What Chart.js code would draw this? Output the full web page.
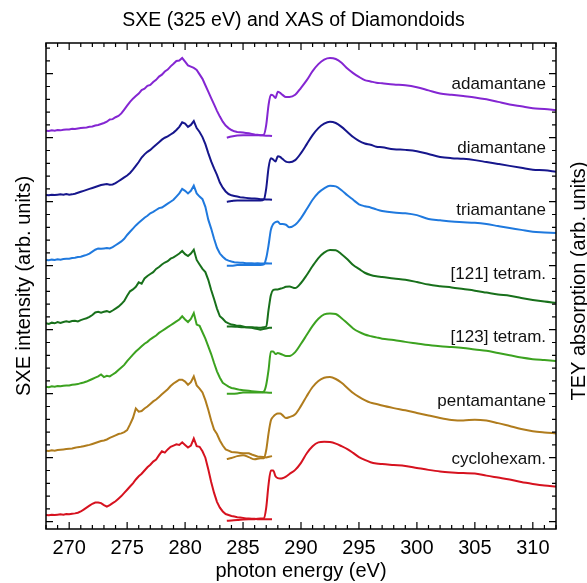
<!DOCTYPE html>
<html>
<head>
<meta charset="utf-8">
<script src="https://cdn.jsdelivr.net/npm/chart.js@4/dist/chart.umd.min.js"></script>
<style>
  html, body { margin: 0; padding: 0; background: #fff; }
  canvas { display: block; }
</style>
</head>
<body>
<canvas id="chart" width="587" height="583"></canvas>
<script>
// Samples, stacked bottom-to-top by one unit each
const samples = ['adamantane', 'diamantane', 'triamantane', '[121] tetram.', '[123] tetram.', 'pentamantane', 'cyclohexam.'];
const stackOffset = [6, 5, 4, 3, 2, 1, 0];
const energyTickLabels = [270, 275, 280, 285, 290, 295, 300, 305, 310];

// Soft x-ray emission energy grid (eV)
const sxeEnergy = [
  268, 268.25, 268.5, 268.75, 269, 269.25, 269.5, 269.75, 270, 270.25, 270.5, 270.75,
  271, 271.25, 271.5, 271.75, 272, 272.25, 272.5, 272.75, 273, 273.25, 273.5, 273.75,
  274, 274.25, 274.5, 274.75, 275, 275.25, 275.5, 275.75, 276, 276.25, 276.5, 276.75,
  277, 277.25, 277.5, 277.75, 278, 278.25, 278.5, 278.75, 279, 279.25, 279.5, 279.75,
  280, 280.25, 280.5, 280.75, 281, 281.25, 281.5, 281.75, 282, 282.25, 282.5, 282.75,
  283, 283.25, 283.5, 283.75, 284, 284.25, 284.5, 284.75, 285, 285.25, 285.5, 285.75,
  286, 286.25, 286.5, 286.75, 287, 287.25, 287.5
];

// X-ray absorption energy grid (eV)
const xasEnergy = [
  283.6, 284, 284.5, 285, 285.5, 286, 286.5,
  286.8, 287, 287.2, 287.4, 287.6, 287.8, 288,
  288.2, 288.4, 288.7, 289,
  289.5, 290, 290.5, 291, 291.5, 292, 292.5, 293, 293.5, 294, 294.5, 295, 295.5, 296, 296.5, 297,
  298, 299, 300, 301, 302, 303, 304, 305, 306, 307, 308, 309, 310, 311, 312
];

// SXE intensities (arb. units)
const sxeAdamantane = [
  0.11, 0.105, 0.115, 0.11,   0.12, 0.115, 0.125, 0.13,   0.13, 0.14, 0.135, 0.145,
  0.15, 0.155, 0.16, 0.17,    0.175, 0.19, 0.20, 0.215,   0.23, 0.25, 0.285, 0.29,
  0.32, 0.34, 0.38, 0.44,     0.50, 0.56, 0.61, 0.65,     0.69, 0.745, 0.765, 0.81,
  0.825, 0.87, 0.905, 0.955,  0.985, 1.035, 1.065, 1.115, 1.155, 1.20, 1.205, 1.245,
  1.19, 1.13, 1.11, 1.09,     1.06, 0.99, 0.92, 0.82,     0.72, 0.62, 0.52, 0.42,
  0.33, 0.25, 0.19, 0.15,     0.12, 0.10, 0.09, 0.085,    0.08, 0.075, 0.07, 0.06,
  0.05, 0.045, 0.04, 0.035,   0.03, 0.03, 0.025
];
const sxeDiamantane = [
  0.105, 0.10, 0.11, 0.105,   0.11, 0.115, 0.11, 0.12,    0.11, 0.115, 0.125, 0.14,
  0.155, 0.17, 0.185, 0.20,   0.215, 0.23, 0.245, 0.26,   0.27, 0.275, 0.265, 0.27,
  0.29, 0.32, 0.35, 0.38,     0.41, 0.45, 0.50, 0.56,     0.62, 0.69, 0.74, 0.78,
  0.81, 0.85, 0.89, 0.93,     0.97, 1.00, 1.02, 1.05,     1.08, 1.12, 1.17, 1.24,
  1.22, 1.17, 1.20, 1.26,     1.15, 1.09, 1.01, 0.90,     0.76, 0.63, 0.52, 0.42,
  0.30, 0.22, 0.16, 0.12,     0.10, 0.09, 0.08, 0.07,     0.065, 0.06, 0.055, 0.05,
  0.05, 0.045, 0.04, 0.04,    0.035, 0.035, 0.03
];
const sxeTriamantane = [
  0.09, 0.085, 0.095, 0.09,   0.10, 0.095, 0.105, 0.11,   0.11, 0.12, 0.125, 0.135,
  0.14, 0.155, 0.17, 0.19,    0.22, 0.25, 0.27, 0.265,    0.27, 0.275, 0.27, 0.29,
  0.32, 0.35, 0.38, 0.42,     0.48, 0.53, 0.58, 0.63,     0.67, 0.71, 0.75, 0.78,
  0.82, 0.84, 0.87, 0.90,     0.91, 0.94, 0.97, 1.00,     1.03, 1.08, 1.13, 1.20,
  1.17, 1.13, 1.17, 1.25,     1.13, 1.08, 1.04, 0.92,     0.72, 0.58, 0.42, 0.28,
  0.19, 0.14, 0.10, 0.08,     0.065, 0.055, 0.05, 0.045,  0.045, 0.04, 0.04, 0.04,
  0.035, 0.04, 0.035, 0.035,  0.04, 0.035, 0.035
];
const sxeTetram121 = [
  0.10, 0.09, 0.11, 0.10,     0.12, 0.105, 0.12, 0.13,    0.12, 0.135, 0.14, 0.13,
  0.15, 0.165, 0.18, 0.20,    0.23, 0.27, 0.28, 0.265,    0.28, 0.29, 0.275, 0.30,
  0.33, 0.36, 0.40, 0.45,     0.53, 0.60, 0.63, 0.67,     0.74, 0.72, 0.80, 0.84,
  0.87, 0.90, 0.95, 0.98,     1.02, 1.05, 1.07, 1.11,     1.13, 1.16, 1.19, 1.23,
  1.18, 1.15, 1.19, 1.25,     1.09, 1.02, 0.95, 0.90,     0.78, 0.62, 0.48, 0.33,
  0.21, 0.17, 0.12, 0.10,     0.08, 0.075, 0.06, 0.06,    0.05, 0.04, 0.035, 0.03,
  0.02, 0.01, 0.00, 0.01,     0.02, 0.03, 0.03
];
const sxeTetram123 = [
  0.11, 0.10, 0.115, 0.11,    0.12, 0.115, 0.125, 0.13,   0.13, 0.14, 0.145, 0.15,
  0.165, 0.175, 0.19, 0.21,   0.23, 0.25, 0.27, 0.30,     0.26, 0.28, 0.27, 0.30,
  0.33, 0.37, 0.41, 0.45,     0.51, 0.56, 0.61, 0.66,     0.70, 0.74, 0.78, 0.81,
  0.85, 0.88, 0.91, 0.95,     0.98, 1.01, 1.04, 1.07,     1.10, 1.13, 1.16, 1.21,
  1.16, 1.12, 1.17, 1.26,     1.08, 1.06, 0.96, 0.86,     0.74, 0.62, 0.48, 0.35,
  0.25, 0.17, 0.14, 0.11,     0.09, 0.08, 0.07, 0.06,     0.055, 0.05, 0.045, 0.04,
  0.035, 0.03, 0.025, 0.02,   0.02, 0.015, 0.015
];
const sxePentamantane = [
  0.11, 0.105, 0.115, 0.11,   0.12, 0.125, 0.13, 0.135,   0.14, 0.145, 0.155, 0.165,
  0.17, 0.18, 0.19, 0.20,     0.215, 0.23, 0.245, 0.26,   0.27, 0.285, 0.31, 0.33,
  0.35, 0.37, 0.38, 0.40,     0.43, 0.52, 0.62, 0.77,     0.72, 0.73, 0.77, 0.80,
  0.84, 0.88, 0.91, 0.95,     0.99, 1.03, 1.07, 1.12,     1.16, 1.19, 1.22, 1.22,
  1.19, 1.14, 1.18, 1.27,     1.13, 1.08, 1.02, 0.90,     0.75, 0.58, 0.44, 0.37,
  0.27, 0.19, 0.13, 0.11,     0.09, 0.085, 0.08, 0.075,   0.07, 0.07, 0.07, 0.05,
  0.035, 0.02, 0.015, 0.01,   0.005, 0.015, 0.025
];
const sxeCyclohexamantane = [
  0.105, 0.10, 0.11, 0.105,   0.11, 0.115, 0.11, 0.12,    0.115, 0.125, 0.13, 0.14,
  0.16, 0.19, 0.22, 0.25,     0.28, 0.30, 0.30, 0.29,     0.26, 0.235, 0.26, 0.29,
  0.32, 0.36, 0.40, 0.45,     0.50, 0.55, 0.60, 0.66,     0.71, 0.75, 0.80, 0.85,
  0.89, 0.94, 0.97, 1.04,     1.10, 1.08, 1.13, 1.17,     1.19, 1.21, 1.20, 1.24,
  1.20, 1.16, 1.19, 1.30,     1.18, 1.17, 1.10, 1.00,     0.82, 0.62, 0.45, 0.31,
  0.22, 0.16, 0.12, 0.105,    0.09, 0.08, 0.07, 0.065,    0.06, 0.05, 0.05, 0.045,
  0.045, 0.04, 0.04, 0.04,    0.04, 0.04, 0.04
];

// TEY absorption (arb. units)
const xasAdamantane = [
  0.00, 0.02, 0.035, 0.04, 0.04, 0.04, 0.04,
  0.05, 0.20, 0.51, 0.67, 0.66, 0.62, 0.72,
  0.70, 0.67, 0.635, 0.635,
  0.67, 0.78, 0.90, 1.04, 1.15, 1.22, 1.245, 1.23, 1.17, 1.08, 1.01, 0.95, 0.90, 0.88, 0.86, 0.85,
  0.83, 0.82, 0.79, 0.74, 0.69, 0.67, 0.65, 0.63, 0.60, 0.56, 0.52, 0.49, 0.46, 0.45, 0.43
];
const xasDiamantane = [
  0.00, 0.01, 0.02, 0.02, 0.02, 0.02, 0.02,
  0.035, 0.21, 0.53, 0.68, 0.66, 0.63, 0.71,
  0.70, 0.67, 0.625, 0.615,
  0.65, 0.76, 0.90, 1.04, 1.15, 1.22, 1.25, 1.23, 1.17, 1.09, 1.01, 0.95, 0.91, 0.89, 0.86, 0.85,
  0.82, 0.81, 0.79, 0.745, 0.70, 0.68, 0.67, 0.65, 0.62, 0.59, 0.56, 0.53, 0.50, 0.49, 0.47
];
const xasTriamantane = [
  0.00, 0.00, 0.01, 0.01, 0.01, 0.01, 0.01,
  0.02, 0.12, 0.32, 0.56, 0.65, 0.68, 0.69,
  0.65, 0.65, 0.64, 0.60,
  0.64, 0.745, 0.885, 1.03, 1.14, 1.21, 1.25, 1.24, 1.18, 1.10, 1.03, 0.96, 0.93, 0.91, 0.88, 0.855,
  0.83, 0.82, 0.79, 0.73, 0.71, 0.69, 0.68, 0.67, 0.65, 0.62, 0.59, 0.56, 0.53, 0.52, 0.51
];
const xasTetram121 = [
  0.05, 0.05, 0.045, 0.04, 0.04, 0.035, 0.03,
  0.04, 0.05, 0.31, 0.54, 0.62, 0.63, 0.63,
  0.64, 0.65, 0.67, 0.675,
  0.65, 0.73, 0.855, 0.995, 1.12, 1.205, 1.245, 1.24, 1.18, 1.10, 1.01, 0.95, 0.89, 0.855, 0.835, 0.825,
  0.80, 0.78, 0.745, 0.705, 0.68, 0.66, 0.635, 0.61, 0.58, 0.55, 0.53, 0.495, 0.465, 0.44, 0.42
];
const xasTetram123 = [
  0.00, 0.00, 0.005, 0.02, 0.02, 0.02, 0.02,
  0.035, 0.14, 0.37, 0.66, 0.66, 0.62, 0.635,
  0.625, 0.61, 0.59, 0.59,
  0.65, 0.78, 0.92, 1.06, 1.17, 1.24, 1.255, 1.245, 1.18, 1.10, 1.02, 0.965, 0.925, 0.90, 0.88, 0.86,
  0.84, 0.81, 0.785, 0.76, 0.74, 0.73, 0.715, 0.69, 0.67, 0.635, 0.60, 0.565, 0.54, 0.525, 0.51
];
const xasPentamantane = [
  -0.02, -0.005, 0.025, 0.04, 0.01, -0.025, -0.01,
  -0.01, 0.12, 0.38, 0.58, 0.64, 0.675, 0.69,
  0.69, 0.665, 0.62, 0.635,
  0.68, 0.81, 0.965, 1.105, 1.20, 1.25, 1.26, 1.23, 1.17, 1.09, 1.01, 0.95, 0.90, 0.86, 0.84, 0.815,
  0.775, 0.74, 0.70, 0.66, 0.62, 0.59, 0.58, 0.595, 0.58, 0.54, 0.495, 0.45, 0.415, 0.395, 0.38
];
const xasCyclohexamantane = [
  0.015, 0.02, 0.025, 0.035, 0.04, 0.04, 0.05,
  0.05, 0.22, 0.58, 0.80, 0.80, 0.71, 0.68,
  0.675, 0.68, 0.705, 0.745,
  0.81, 0.92, 1.07, 1.18, 1.24, 1.25, 1.245, 1.22, 1.18, 1.135, 1.075, 1.01, 0.965, 0.93, 0.91, 0.90,
  0.885, 0.87, 0.84, 0.81, 0.785, 0.77, 0.76, 0.755, 0.72, 0.69, 0.66, 0.62, 0.59, 0.565, 0.55
];

const sxeSeries = [sxeAdamantane, sxeDiamantane, sxeTriamantane, sxeTetram121, sxeTetram123, sxePentamantane, sxeCyclohexamantane];
const xasSeries = [xasAdamantane, xasDiamantane, xasTriamantane, xasTetram121, xasTetram123, xasPentamantane, xasCyclohexamantane];

const FONT = '"Liberation Sans", Arial, Helvetica, sans-serif';
const lineColors = ['#8426d2', '#16168c', '#1f79de', '#18701b', '#3ca220', '#b07c1d', '#d6121f'];
const labelLift = [0.756, 0.756, 0.79, 0.80, 0.81, 0.81, 0.90];
const labelEnergy = 311.14;

Chart.defaults.font.family = FONT;
Chart.defaults.color = '#000';

const datasets = [];
samples.forEach((name, i) => {
  datasets.push({
    label: name + ' SXE',
    data: sxeEnergy.map((e, j) => ({ x: e, y: sxeSeries[i][j] + stackOffset[i] })),
    borderColor: lineColors[i],
    borderWidth: 2,
    pointRadius: 0,
    tension: 0,
    fill: false
  });
  datasets.push({
    label: name + ' XAS',
    data: xasEnergy.map((e, j) => ({ x: e, y: xasSeries[i][j] + stackOffset[i] })),
    borderColor: lineColors[i],
    borderWidth: 2,
    pointRadius: 0,
    cubicInterpolationMode: 'monotone',
    fill: false
  });
});

// Inward tick marks, plot frame, curve names and the right-hand axis title
const frameAndLabels = {
  id: 'frameAndLabels',
  afterDatasetsDraw(chart) {
    const { ctx, chartArea: a, scales: { x, y } } = chart;
    ctx.save();

    ctx.font = '17px ' + FONT;
    ctx.fillStyle = '#111';
    ctx.textAlign = 'right';
    ctx.textBaseline = 'alphabetic';
    samples.forEach((name, i) => {
      ctx.fillText(name, x.getPixelForValue(labelEnergy), y.getPixelForValue(stackOffset[i] + labelLift[i]));
    });

    ctx.strokeStyle = '#000';
    ctx.lineWidth = 1.2;
    ctx.beginPath();
    x.ticks.forEach(t => {
      const px = x.getPixelForValue(t.value);
      const len = t.value % 5 === 0 ? 7 : 4;
      ctx.moveTo(px, a.bottom); ctx.lineTo(px, a.bottom - len);
      ctx.moveTo(px, a.top); ctx.lineTo(px, a.top + len);
    });
    for (let k = 0; k * 0.2 <= y.max; k++) {
      const py = y.getPixelForValue(k * 0.2);
      const len = k % 5 === 0 ? 7 : 4;
      ctx.moveTo(a.left, py); ctx.lineTo(a.left + len, py);
      ctx.moveTo(a.right, py); ctx.lineTo(a.right - len, py);
    }
    ctx.stroke();

    ctx.lineWidth = 1.5;
    ctx.strokeRect(a.left, a.top, a.right - a.left, a.bottom - a.top);

    ctx.font = '20px ' + FONT;
    ctx.fillStyle = '#000';
    ctx.textAlign = 'center';
    ctx.textBaseline = 'middle';
    ctx.translate(chart.width - 7.5, (a.top + a.bottom) / 2 - 5);
    ctx.rotate(-Math.PI / 2);
    ctx.fillText('TEY absorption (arb. units)', 0, 0);
    ctx.restore();
  }
};

new Chart(document.getElementById('chart'), {
  type: 'line',
  data: { datasets },
  options: {
    responsive: false,
    devicePixelRatio: 1,
    animation: false,
    layout: { padding: 0 },
    plugins: {
      legend: { display: false },
      tooltip: { enabled: false },
      title: {
        display: true,
        text: 'SXE (325 eV) and XAS of Diamondoids',
        color: '#000',
        font: { size: 19.5, weight: 'normal', family: FONT },
        padding: { top: 8.8, bottom: 10.8 }
      }
    },
    scales: {
      x: {
        type: 'linear',
        min: 268,
        max: 312,
        grid: { display: false, drawTicks: false },
        border: { display: false },
        ticks: {
          stepSize: 1,
          autoSkip: false,
          maxRotation: 0,
          padding: 7,
          color: '#000',
          font: { size: 20 },
          callback: v => energyTickLabels.includes(v) ? String(v) : ''
        },
        title: {
          display: true,
          text: 'photon energy (eV)',
          color: '#000',
          font: { size: 20 },
          padding: { top: 0, bottom: 0 }
        },
        afterFit: s => { s.height = 54; }
      },
      y: {
        type: 'linear',
        position: 'left',
        min: -0.114,
        max: 7.48,
        grid: { display: false, drawTicks: false },
        border: { display: false },
        ticks: { display: false },
        title: {
          display: true,
          text: 'SXE intensity (arb. units)',
          color: '#000',
          font: { size: 20 },
          padding: { top: 12, bottom: 0 }
        },
        afterFit: s => { s.width = 46; }
      },
      y2: {
        type: 'linear',
        position: 'right',
        min: -0.114,
        max: 7.48,
        grid: { display: false, drawTicks: false },
        border: { display: false },
        ticks: { display: false },
        afterFit: s => { s.width = 31; }
      }
    }
  },
  plugins: [frameAndLabels]
});
</script>
</body>
</html>
